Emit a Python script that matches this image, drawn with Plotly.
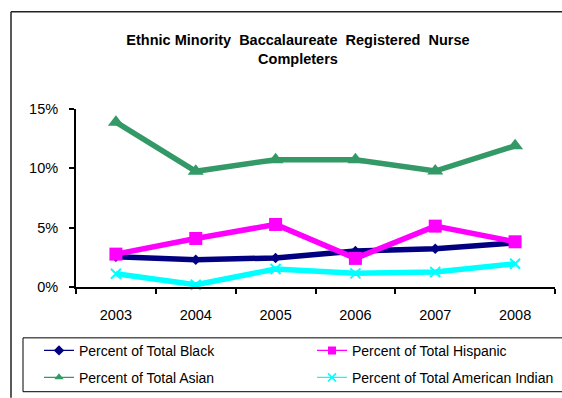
import plotly.graph_objects as go

years = ["2003", "2004", "2005", "2006", "2007", "2008"]
black = [2.55, 2.3, 2.45, 3.03, 3.22, 3.72]
hispanic = [2.77, 4.09, 5.27, 2.41, 5.13, 3.81]
asian = [13.89, 9.75, 10.73, 10.73, 9.77, 11.9]
amind = [1.12, 0.19, 1.51, 1.15, 1.26, 1.96]
names = ["Percent of Total Black", "Percent of Total Hispanic",
         "Percent of Total Asian", "Percent of Total American Indian"]
yticks = [0, 5, 10, 15]
yticklabels = ["0%", "5%", "10%", "15%"]

colors = ["#000080", "#FF00FF", "#339966", "#00FFFF"]
symbols = ["diamond", "square", "triangle-up", "x-thin"]
msizes = [8, 13, 14, 10]
series = [black, hispanic, asian, amind]

W, H = 562, 398
PX0, PX1 = 76, 555      # plot area x (px)
PY0, PY1 = 108.5, 287   # plot area y (px)


def xp(px):
    return (px - PX0) / (PX1 - PX0)


def yp(py):
    return (PY1 - py) / (PY1 - PY0)


fig = go.Figure()
for i, (vals, nm) in enumerate(zip(series, names)):
    mk = dict(symbol=symbols[i], size=msizes[i], color=colors[i])
    if symbols[i] == "x-thin":
        mk["line"] = dict(color=colors[i], width=2)
    fig.add_trace(go.Scatter(x=years, y=vals, mode="lines+markers", name=nm,
                             line=dict(color=colors[i], width=5.5), marker=mk,
                             showlegend=False, cliponaxis=False))

legend_ids = ["legend", "legend2", "legend3", "legend4"]
# text start x and row center y of legend entries (px)
leg_pos = [(79, 351), (352, 351), (79, 378), (352, 378)]
for i, nm in enumerate(names):
    mk = dict(symbol=symbols[i], size=8, color=colors[i])
    if symbols[i] == "x-thin":
        mk["line"] = dict(color=colors[i], width=1.5)
    fig.add_trace(go.Scatter(x=[None], y=[None], mode="lines+markers", name=nm,
                             line=dict(color=colors[i], width=1.3), marker=mk,
                             legend=legend_ids[i]))

font = "Arial, Liberation Sans, sans-serif"
legends = {}
for lid, (px, py) in zip(legend_ids, leg_pos):
    legends[lid] = dict(x=xp(px - 40), y=yp(py), xanchor="left", yanchor="middle",
                        font=dict(size=14), bgcolor="rgba(0,0,0,0)", itemclick=False)


def seg(x0, y0, x1, y1, color="black", width=1):
    return dict(type="line", xref="paper", yref="paper", x0=xp(x0), x1=xp(x1),
                y0=yp(y0), y1=yp(y1), line=dict(color=color, width=width))


shapes = [
    # outer chart border (top and left visible)
    seg(11, 11, 562, 11, "#222222", 1.5),
    seg(11, 11, 11, 398, "#222222", 1.5),
    # legend box (top, bottom, left)
    seg(23, 338, 562, 338),
    seg(23, 392, 562, 392),
    seg(23, 338, 23, 392),
]

fig.update_layout(
    width=W, height=H,
    margin=dict(l=PX0, r=W - PX1, t=PY0, b=H - PY1, autoexpand=False),
    paper_bgcolor="white", plot_bgcolor="white",
    font=dict(family=font, size=12, color="black"),
    title=dict(text="<b>Ethnic Minority  Baccalaureate  Registered  Nurse<br>Completers</b>",
               x=xp(298), xref="paper", xanchor="center", y=1 - 45 / H, yanchor="middle",
               font=dict(size=14.5, family=font)),
    xaxis=dict(type="category", range=[-0.5, 5.5], showline=True, linecolor="black",
               linewidth=2, ticks="outside", tickson="boundaries", ticklen=5,
               tickcolor="black", tickwidth=1.5, showgrid=False, tickfont=dict(size=14.5),
               ticklabelstandoff=14),
    yaxis=dict(range=[0, 15], tickvals=yticks, ticktext=yticklabels, showline=True,
               linecolor="black", linewidth=2, ticks="outside", ticklen=5, tickwidth=1.5,
               tickcolor="black", showgrid=False, zeroline=False, tickfont=dict(size=14.5),
               ticklabelstandoff=8),
    shapes=shapes,
    **legends,
)
fig.write_html(
    "out.html", config={"displayModeBar": False},
    post_script=("document.documentElement.style.overflow='hidden';"
                 "document.documentElement.style.margin='0';"
                 "document.body.style.margin='0';document.body.style.overflow='hidden';"))
